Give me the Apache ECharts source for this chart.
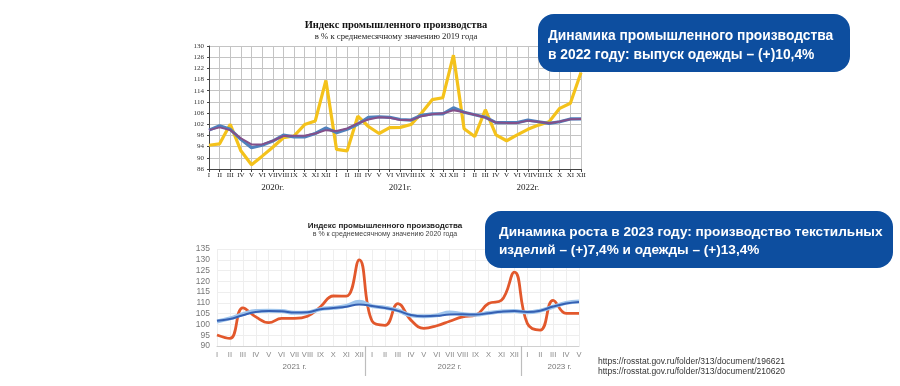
<!DOCTYPE html>
<html><head><meta charset="utf-8">
<script src="https://cdn.jsdelivr.net/npm/echarts@6/dist/echarts.min.js"></script>
<style>html,body{margin:0;padding:0;background:#fff}#c{width:900px;height:386px}</style>
</head><body><div id="c"></div>
<script>
// ---------- data: top chart (2020-2022, % of 2019 monthly average) ----------
const romans = ['I','II','III','IV','V','VI','VII','VIII','IX','X','XI','XII'];
const topMonths = [...romans, ...romans, ...romans];
const topYears = ['2020г.', '2021г.', '2022г.'];
const topActual = [94.5,95,102,92.5,87.5,90.6,93.8,97.2,97.8,101.9,103.2,117.7,
                   93,92.5,104.9,101.2,98.7,100.8,100.9,101.9,106,110.8,111.5,126.7,
                   100.4,97.6,107.2,98.2,96.1,98.2,100.2,101.7,102.9,107.7,109.5,120.5];
const topSeasonal = [99.9,101.5,100.2,96.6,93.6,94.5,96,98.1,97.5,97.5,98.7,100.7,
                     99,100.2,102,104.5,104.7,104.5,103.7,103.5,105.2,105.7,105.7,107.9,
                     106.3,105.4,104.5,102.6,102.6,102.6,103.5,102.9,102.3,102.9,103.9,103.9];
const topTrend = [99.9,100.9,99.9,97,94.8,94.8,96.1,97.8,97.9,97.9,98.7,99.9,
                  99.6,100.5,102.3,103.7,104.5,104.3,103.5,103.5,104.9,105.6,105.9,107,
                  106.3,105.4,104.4,102.6,102.5,102.5,103.3,102.9,102.4,103,103.8,103.9];

// ---------- data: bottom chart (2021-2023, % of 2020 monthly average) ----------
const botMonths = [...romans, ...romans, ...romans.slice(0,5)];
const botYears = ['2021 г.', '2022 г.', '2023 г.'];
const botActual = [95.1,93.5,107.7,103.5,100.8,102.8,102.8,103.8,108.2,113.2,113.1,130,
                   101.5,99.6,109.7,102,98.2,99.4,101.5,103.5,104.3,109.7,111.2,124.3,
                   100.5,97.4,111.2,105.1,105.1];
const botSeasonal = [101.4,102.8,104.8,106.2,106.3,106.2,105.4,105.5,107.1,107.7,108.6,110.5,
                     108.5,107.8,106.5,104.2,103.8,104.2,105.5,104.8,104.5,105.3,106,106.2,
                     105.6,106.4,108.2,110,110.7];
const botTrend = [101.7,102.5,104.3,105.8,106.2,106.1,105.5,105.7,107,107.6,108.2,109.3,
                  108.6,107.6,106.3,104.4,103.8,104,104.6,104.7,104.6,105.2,105.9,106.2,
                  105.8,106.4,108.3,109.7,110.4];

// year-label helper axes
const topYearAxis = topMonths.map((m, i) => (i % 12 === 6 ? topYears[Math.floor(i / 12)] : ''));
const botHalf = [];
for (let i = 0; i <= (botMonths.length - 1) * 2; i++) botHalf.push('');
botHalf[12] = botYears[0]; botHalf[36] = botYears[1]; botHalf[53] = botYears[2];

const serif = '"Liberation Serif","DejaVu Serif",serif';
const sans = '"Liberation Sans",Arial,sans-serif';

const chart = echarts.init(document.getElementById('c'), null, {renderer: 'canvas'});
chart.setOption({
  animation: false,
  backgroundColor: '#fff',
  title: [
    {text: 'Индекс промышленного производства', left: 391, top: 15, textAlign: 'center',
     textStyle: {fontFamily: serif, fontWeight: 'bold', fontSize: 10.5, color: '#111'},
     subtext: 'в % к среднемесячному значению 2019 года', itemGap: 1,
     subtextStyle: {fontFamily: serif, fontSize: 8.7, color: '#222'}},
    {text: 'Индекс промышленного производства', left: 380, top: 217, textAlign: 'center',
     textStyle: {fontFamily: sans, fontWeight: 'bold', fontSize: 8, color: '#222'},
     subtext: 'в % к среднемесячному значению 2020 года', itemGap: 1,
     subtextStyle: {fontFamily: sans, fontSize: 7, color: '#444'}}
  ],
  grid: [
    {left: 209, top: 46, width: 372, height: 123},
    {left: 217, top: 249, width: 362, height: 97}
  ],
  xAxis: [
    {gridIndex: 0, type: 'category', data: topMonths, boundaryGap: false,
     axisLine: {lineStyle: {color: '#444', width: 1}},
     axisTick: {show: true, length: 3, interval: 0, lineStyle: {color: '#444'}},
     axisLabel: {interval: 0, fontFamily: serif, fontSize: 7, color: '#222', margin: 3},
     splitLine: {show: true, interval: 0, lineStyle: {color: '#c4c4c4', width: 1}}},
    {gridIndex: 0, type: 'category', data: topYearAxis, boundaryGap: false, position: 'bottom',
     axisLine: {show: false}, axisTick: {show: false},
     axisLabel: {interval: 0, fontFamily: serif, fontSize: 9, color: '#222', margin: 14}},
    {gridIndex: 1, type: 'category', data: botMonths, boundaryGap: false,
     axisLine: {lineStyle: {color: '#d0d0d0'}},
     axisTick: {show: false},
     axisLabel: {interval: 0, fontFamily: sans, fontSize: 7.5, color: '#888', margin: 5},
     splitLine: {show: true, interval: 0, lineStyle: {color: '#eeeeee'}}},
    {gridIndex: 1, type: 'category', data: botHalf, boundaryGap: false, position: 'bottom',
     axisLine: {show: false},
     axisTick: {show: true, inside: false, length: 30, interval: (i) => i === 23 || i === 47,
                lineStyle: {color: '#bdbdbd', width: 1.2}},
     axisLabel: {interval: 0, fontFamily: sans, fontSize: 8, color: '#777', margin: 17}}
  ],
  yAxis: [
    {gridIndex: 0, type: 'value', min: 86, max: 130, interval: 4,
     axisLine: {show: true, lineStyle: {color: '#444'}},
     axisTick: {show: true, length: 2, lineStyle: {color: '#444'}},
     axisLabel: {fontFamily: serif, fontSize: 7, color: '#333', margin: 5},
     splitLine: {lineStyle: {color: '#c4c4c4'}}},
    {gridIndex: 1, type: 'value', min: 90, max: 135, interval: 5,
     axisLine: {show: false}, axisTick: {show: false},
     axisLabel: {fontFamily: sans, fontSize: 8.5, color: '#777', margin: 7},
     splitLine: {lineStyle: {color: '#eeeeee'}}}
  ],
  series: [
    {type: 'line', xAxisIndex: 0, yAxisIndex: 0, data: topActual, symbol: 'none',
     lineStyle: {color: '#F4C21B', width: 3.2}},
    {type: 'line', xAxisIndex: 0, yAxisIndex: 0, data: topSeasonal, symbol: 'none',
     lineStyle: {color: '#4F81BD', width: 3.2}},
    {type: 'line', xAxisIndex: 0, yAxisIndex: 0, data: topTrend, symbol: 'none',
     lineStyle: {color: '#84508A', width: 2}},
    {type: 'line', xAxisIndex: 2, yAxisIndex: 1, data: botActual, symbol: 'none', smooth: 0.45,
     lineStyle: {color: '#E2582C', width: 2.8}},
    {type: 'line', xAxisIndex: 2, yAxisIndex: 1, data: botSeasonal, symbol: 'none', smooth: 0.45,
     lineStyle: {color: '#9EC4EC', width: 4}},
    {type: 'line', xAxisIndex: 2, yAxisIndex: 1, data: botTrend, symbol: 'none', smooth: 0.45,
     lineStyle: {color: '#3560B3', width: 2}}
  ],
  graphic: [
    {type: 'rect', z: 100, shape: {x: 538, y: 14, width: 312, height: 58, r: 16},
     style: {fill: '#0D4E9F'}},
    {type: 'text', z: 101, x: 548, y: 27,
     style: {text: 'Динамика промышленного производства\nв 2022 году: выпуск одежды – (+)10,4%',
             fill: '#fff', font: 'bold 13.8px "Liberation Sans", Arial, sans-serif', lineHeight: 19}},
    {type: 'rect', z: 100, shape: {x: 485, y: 211, width: 408, height: 57, r: 16},
     style: {fill: '#0D4E9F'}},
    {type: 'text', z: 101, x: 499, y: 223,
     style: {text: 'Динамика роста в 2023 году: производство текстильных\nизделий – (+)7,4% и одежды – (+)13,4%',
             fill: '#fff', font: 'bold 13.6px "Liberation Sans", Arial, sans-serif', lineHeight: 18}},
    {type: 'text', z: 101, x: 598, y: 357,
     style: {text: 'https://rosstat.gov.ru/folder/313/document/196621\nhttps://rosstat.gov.ru/folder/313/document/210620',
             fill: '#333', font: '8.5px "Liberation Sans", Arial, sans-serif', lineHeight: 10}}
  ]
});
</script></body></html>
